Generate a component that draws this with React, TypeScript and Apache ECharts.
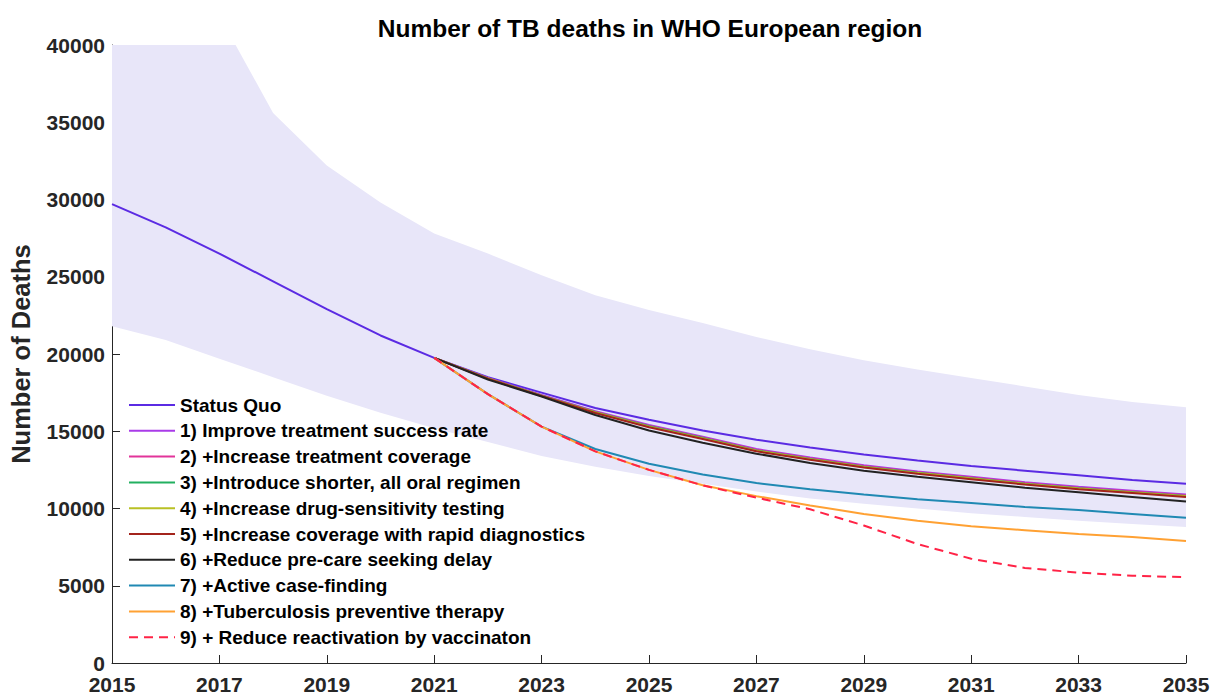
import React, { useEffect, useRef } from "react";
import * as echarts from "echarts";

const years = [2015, 2016, 2017, 2018, 2019, 2020, 2021, 2022, 2023, 2024, 2025, 2026, 2027, 2028, 2029, 2030, 2031, 2032, 2033, 2034, 2035];
const scenarioYears = [2021, 2022, 2023, 2024, 2025, 2026, 2027, 2028, 2029, 2030, 2031, 2032, 2033, 2034, 2035];

const bandUpper = [50000, 45500, 41900, 35600, 32200, 29800, 27800, 26500, 25100, 23800, 22850, 22000, 21100, 20300, 19600, 19000, 18450, 17900, 17350, 16900, 16550];
const bandLower = [21800, 20900, 19700, 18500, 17300, 16200, 15200, 14300, 13400, 12700, 12100, 11600, 11100, 10650, 10300, 10000, 9700, 9450, 9200, 9000, 8800];

const statusQuo = [29700, 28200, 26500, 24700, 22900, 21200, 19750, 18500, 17500, 16500, 15750, 15050, 14450, 13950, 13500, 13100, 12750, 12450, 12150, 11850, 11600];

const s1 = [19750, 18450, 17350, 16300, 15400, 14650, 13850, 13300, 12800, 12400, 12050, 11700, 11400, 11150, 10900];
const s2 = [19750, 18430, 17320, 16260, 15350, 14600, 13800, 13250, 12750, 12350, 12000, 11650, 11350, 11100, 10850];
const s3 = [19750, 18420, 17300, 16230, 15320, 14560, 13760, 13210, 12710, 12310, 11960, 11610, 11310, 11060, 10810];
const s4 = [19750, 18410, 17290, 16210, 15300, 14540, 13740, 13190, 12690, 12290, 11940, 11590, 11290, 11040, 10790];
const s5 = [19750, 18400, 17280, 16180, 15260, 14500, 13700, 13150, 12650, 12250, 11900, 11550, 11250, 11000, 10750];
const s6 = [19750, 18350, 17250, 16050, 15050, 14250, 13550, 12950, 12450, 12050, 11700, 11350, 11050, 10750, 10450];
const s7 = [19750, 17400, 15300, 13850, 12900, 12200, 11650, 11250, 10900, 10600, 10350, 10100, 9900, 9650, 9400];
const s8 = [19750, 17400, 15300, 13700, 12500, 11500, 10800, 10200, 9650, 9200, 8850, 8600, 8350, 8150, 7900];
const s9 = [19750, 17400, 15300, 13700, 12500, 11500, 10700, 9950, 8900, 7700, 6750, 6150, 5850, 5650, 5550];

const seriesNames = [
  "Status Quo",
  "1) Improve treatment success rate",
  "2) +Increase treatment coverage",
  "3) +Introduce shorter, all oral regimen",
  "4) +Increase drug-sensitivity testing",
  "5) +Increase coverage with rapid diagnostics",
  "6) +Reduce pre-care seeking delay",
  "7) +Active case-finding",
  "8) +Tuberculosis preventive therapy",
  "9) + Reduce reactivation by vaccinaton",
];
const seriesColors = ["#5B2BE3", "#A93BE8", "#E2349A", "#22B060", "#B9C024", "#A3241C", "#222222", "#2089B3", "#FFA133", "#FF2346"];
const scenarioData = [s1, s2, s3, s4, s5, s6, s7, s8, s9];

const FONT = "'Liberation Sans', Arial, Helvetica, sans-serif";

export default function App() {
  const ref = useRef<HTMLDivElement>(null);

  useEffect(() => {
    if (!ref.current) return;
    const chart = echarts.init(ref.current, undefined, { renderer: "svg" });

    const pair = (xs: number[], ys: number[]) => xs.map((x, i) => [x, ys[i]]);

    const lineSeries: any[] = [
      {
        name: seriesNames[0],
        type: "line",
        data: pair(years, statusQuo),
        symbol: "none",
        lineStyle: { color: seriesColors[0], width: 2 },
        itemStyle: { color: seriesColors[0] },
        z: 3,
      },
      ...scenarioData.map((d, i) => ({
        name: seriesNames[i + 1],
        type: "line",
        data: pair(scenarioYears, d),
        symbol: "none",
        lineStyle: {
          color: seriesColors[i + 1],
          width: 2,
          type: i === 8 ? [9, 6] : "solid",
        },
        itemStyle: { color: seriesColors[i + 1] },
        z: 3,
      })),
    ];

    const bandSeries = {
      name: "band",
      type: "custom",
      clip: true,
      silent: true,
      z: 1,
      data: [[0]],
      encode: { x: -1, y: -1 },
      renderItem: (_params: any, api: any) => {
        const top = years.map((y, i) => api.coord([y, bandUpper[i]]));
        const bottom = years.map((y, i) => api.coord([y, bandLower[i]])).reverse();
        return {
          type: "polygon",
          shape: { points: top.concat(bottom) },
          style: { fill: "#E8E6F9", stroke: "none" },
        };
      },
    };

    const option: any = {
      animation: false,
      backgroundColor: "#ffffff",
      textStyle: { fontFamily: FONT },
      title: {
        text: "Number of TB deaths in WHO European region",
        left: 645,
        top: 11,
        textAlign: "center",
        textStyle: { fontFamily: FONT, fontSize: 24.5, fontWeight: "bold", color: "#000000" },
      },
      grid: { left: 110, right: 28, top: 45, bottom: 33, containLabel: false },
      legend: {
        orient: "vertical",
        left: 128,
        top: 395,
        padding: 0,
        itemWidth: 46,
        itemHeight: 14,
        itemGap: 5.8,
        data: seriesNames,
        itemStyle: { opacity: 0 },
        textStyle: { fontFamily: FONT, fontSize: 19, fontWeight: "bold", color: "#000000", lineHeight: 20 },
      },
      xAxis: {
        type: "value",
        min: 2015,
        max: 2035,
        interval: 2,
        axisLine: { lineStyle: { color: "#262626", width: 1 } },
        axisTick: { inside: true, length: 8, lineStyle: { color: "#262626" } },
        splitLine: { show: false },
        axisLabel: {
          formatter: (v: number) => String(v),
          fontFamily: FONT,
          fontSize: 21,
          fontWeight: "bold",
          color: "#262626",
          margin: 11,
          lineHeight: 20,
        },
      },
      yAxis: {
        type: "value",
        min: 0,
        max: 40000,
        interval: 5000,
        name: "Number of Deaths",
        nameLocation: "middle",
        nameGap: 78,
        nameTextStyle: { fontFamily: FONT, fontSize: 25.5, fontWeight: "bold", color: "#262626" },
        axisLine: { show: true, lineStyle: { color: "#262626", width: 1 } },
        axisTick: { show: true, inside: true, length: 8, lineStyle: { color: "#262626" } },
        splitLine: { show: false },
        axisLabel: {
          formatter: (v: number) => String(v),
          fontFamily: FONT,
          fontSize: 21,
          fontWeight: "bold",
          color: "#262626",
          margin: 7,
          lineHeight: 17,
        },
      },
      series: [bandSeries, ...lineSeries],
    };

    chart.setOption(option);
    return () => chart.dispose();
  }, []);

  return (
    <div
      ref={ref}
      style={{ position: "fixed", left: 0, top: 0, width: 1214, height: 696 }}
    />
  );
}
